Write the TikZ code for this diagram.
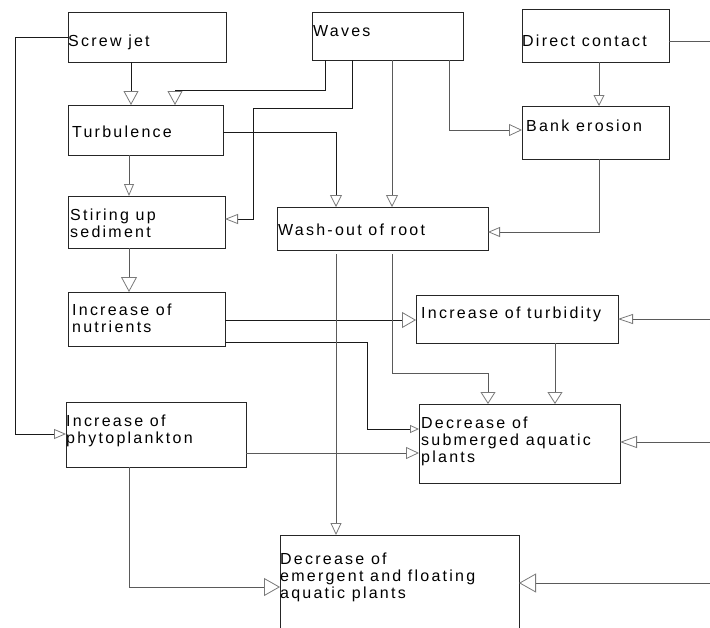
\documentclass[tikz,border=0pt]{standalone}
\usepackage{fontspec}
\setmainfont{Liberation Sans}[LetterSpace=14]
\usetikzlibrary{arrows.meta}
\definecolor{lk}{HTML}{1A1A1A}
\definecolor{lg}{HTML}{5A5A5A}
\definecolor{tipc}{HTML}{7A7A7A}
\tikzset{
  boxn/.style={draw=black!85, line width=1pt, anchor=north west, inner sep=0pt, outer sep=0pt},
  lbl/.style={anchor=north west, inner sep=0pt, align=left, font=\fontsize{16pt}{17pt}\selectfont},
  con/.style={line width=1pt},
  ot/.style 2 args={-{Triangle[open,length=#1pt,width=#2pt,line width=0.8pt,color=tipc]}},
}
\begin{document}
\begin{tikzpicture}[x=1pt,y=-1pt]
\clip (0,0) rectangle (710,627);
\fill[white] (0,0) rectangle (710,627);
% boxes
\node[boxn, minimum width=158pt, minimum height=50pt] (sj) at (68,12) {};
\node[boxn, minimum width=151pt, minimum height=48pt] (waves) at (312,12) {};
\node[boxn, minimum width=147pt, minimum height=53pt] (dc) at (522,9) {};
\node[boxn, minimum width=155pt, minimum height=50pt] (turb) at (68,105) {};
\node[boxn, minimum width=147pt, minimum height=53pt] (bank) at (522,106) {};
\node[boxn, minimum width=157pt, minimum height=52pt] (stir) at (68,196) {};
\node[boxn, minimum width=211pt, minimum height=43pt] (wash) at (277,207) {};
\node[boxn, minimum width=157pt, minimum height=54pt] (nutr) at (68,292) {};
\node[boxn, minimum width=180pt, minimum height=65pt] (phyto) at (66,402) {};
\node[boxn, minimum width=202pt, minimum height=48pt] (turbid) at (416,295) {};
\node[boxn, minimum width=201pt, minimum height=79pt] (sub) at (419,404) {};
\node[boxn, minimum width=239pt, minimum height=120pt] (emer) at (280,535) {};
% labels
\node[lbl] (tsj) at (68,35) {Screw jet};
\node[lbl] (twaves) at (313,25) {Waves};
\node[lbl] (tdc) at (522,35) {Direct contact};
\node[lbl] (tturb) at (72,126) {Turbulence};
\node[lbl] (tbank) at (526,120) {Bank erosion};
\node[lbl] (tstir) at (70,209) {Stiring up\\sediment};
\node[lbl] (twash) at (278,224) {Wash-out of root};
\node[lbl] (tnutr) at (72,304) {Increase of\\nutrients};
\node[lbl] (tphyto) at (66,415) {Increase of\\phytoplankton};
\node[lbl] (tturbid) at (421,307) {Increase of turbidity};
\node[lbl] (tsub) at (421,417) {Decrease of\\submerged aquatic\\plants};
\node[lbl] (temer) at (280,553) {Decrease of\\emergent and floating\\aquatic plants};
% bend coordinates
\coordinate (c131) at (131,0);
\coordinate (w1a) at (325,90);
\coordinate (w1b) at (175,90);
\coordinate (w2a) at (352,108);
\coordinate (w2b) at (253,108);
\coordinate (w2c) at (253,219);
\coordinate (w3) at (392,0);
\coordinate (w4) at (449,130);
\coordinate (d1) at (599,0);
\coordinate (dcr) at (712,41);
\coordinate (s1) at (15,37);
\coordinate (s2) at (15,434);
\coordinate (t1) at (336,132);
\coordinate (t2) at (129,0);
\coordinate (b1) at (599,232);
\coordinate (n1) at (0,320);
\coordinate (n2) at (367,342);
\coordinate (n3) at (367,429);
\coordinate (r1) at (392,373);
\coordinate (r2) at (488,373);
\coordinate (u1) at (555,0);
\coordinate (e1) at (712,319);
\coordinate (e2) at (712,442);
\coordinate (e3) at (712,583);
\coordinate (p1) at (0,453);
\coordinate (p2) at (129,587);
% connectors
\draw[con,lk,ot={14}{15}] (sj.south -| c131) -- (turb.north -| c131);
\draw[con,lk,ot={14}{15}] (waves.south -| w1a) -- (w1a) -- (w1b) -- (turb.north -| w1b);
\draw[con,lk,ot={13}{10}] (waves.south -| w2a) -- (w2a) -- (w2b) -- (w2c) -- (stir.east |- w2c);
\draw[con,lg,ot={12}{12}] (waves.south -| w3) -- (wash.north -| w3);
\draw[con,lg,ot={13}{12}] (waves.south -| w4) -- (w4) -- (bank.west |- w4);
\draw[con,lg,ot={11}{11}] (dc.south -| d1) -- (bank.north -| d1);
\draw[con,lg] (dc.east |- dcr) -- (dcr);
\draw[con,lk,ot={12}{10}] (sj.west |- s1) -- (s1) -- (s2) -- (phyto.west |- s2);
\draw[con,lk,ot={12}{12}] (turb.east |- t1) -- (t1) -- (wash.north -| t1);
\draw[con,lg,ot={12}{10}] (turb.south -| t2) -- (stir.north -| t2);
\draw[con,lg,ot={12}{10}] (bank.south -| b1) -- (b1) -- (wash.east |- b1);
\draw[con,lg,ot={15}{16}] (stir.south -| t2) -- (nutr.north -| t2);
\draw[con,lk,ot={14}{16}] (nutr.east |- n1) -- (turbid.west |- n1);
\draw[con,lk,ot={9}{8}] (nutr.east |- n2) -- (n2) -- (n3) -- (sub.west |- n3);
\draw[con,lg,ot={12}{15},shorten <=4pt] (wash.south -| r1) -- (r1) -- (r2) -- (sub.north -| r2);
\draw[con,lg,ot={12}{15}] (turbid.south -| u1) -- (sub.north -| u1);
\draw[con,lg,ot={15}{10}] (e1) -- (turbid.east |- e1);
\draw[con,lg,ot={17}{12}] (e2) -- (sub.east |- e2);
\draw[con,lg,ot={13}{12}] (phyto.east |- p1) -- (sub.west |- p1);
\draw[con,lg,ot={12}{11},shorten <=4pt] (wash.south -| t1) -- (emer.north -| t1);
\draw[con,lg,ot={16}{18}] (phyto.south -| p2) -- (p2) -- (emer.west |- p2);
\draw[con,lg,ot={17}{19}] (e3) -- (emer.east |- e3);
\end{tikzpicture}
\end{document}
